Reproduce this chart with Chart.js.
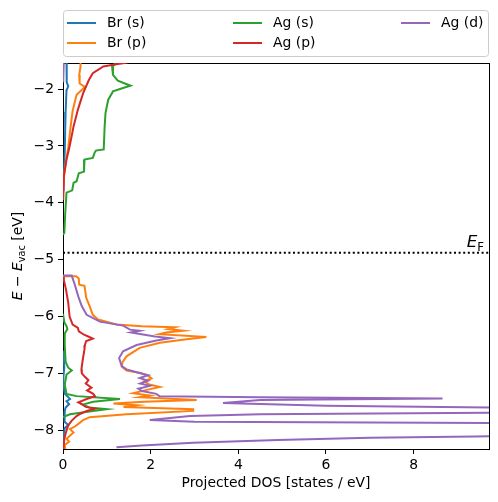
<!DOCTYPE html>
<html>
<head>
<meta charset="utf-8">
<script src="https://cdn.jsdelivr.net/npm/chart.js@4.4.1/dist/chart.umd.min.js"></script>
<style>body{margin:0;background:#fff}</style>
</head>
<body>
<canvas id="dos" width="498" height="502"></canvas>
<script>
var seriesNames = ['Br (s)', 'Br (p)', 'Ag (s)', 'Ag (p)', 'Ag (d)'];
var seriesColors = ['#1f77b4', '#ff7f0e', '#2ca02c', '#d62728', '#9467bd'];
var fermiLevel = -4.88;
var xMax = 9.72;

// energy (eV) and projected DOS per orbital, null = nothing drawn there
var brS_E = [-1.45, -1.70, -1.88, -1.95, -2.02, -2.40, -2.70, -3.10, -3.50, -3.80,
  -4.00, -6.60, -6.75, -6.90, -7.05, -7.20, -7.36, -7.40, -7.45, -7.49,
  -7.54, -7.60, -7.66, -7.75, -7.85, -7.91, -7.96, -8.05, -8.20, -8.40];
var brS_dos = [0.08, 0.08, 0.09, 0.12, 0.08, 0.06, 0.05, 0.04, 0.02, 0.01,
  null, 0.00, 0.02, 0.03, 0.01, 0.01, 0.04, 0.10, 0.16, 0.08,
  0.14, 0.06, 0.04, 0.03, 0.04, 0.12, 0.04, 0.02, 0.01, 0.00];

var brP_E = [-1.45, -1.60, -1.75, -1.90, -1.96, -2.02, -2.10, -2.38, -2.68, -3.03,
  -3.30, -3.55, -3.75, -4.00, -5.29, -5.29, -5.33, -5.44, -5.46, -5.67,
  -5.82, -5.97, -6.05, -6.14, -6.17, -6.19, -6.22, -6.25, -6.28, -6.31,
  -6.36, -6.40, -6.46, -6.55, -6.70, -6.80, -6.88, -6.95, -6.99, -7.04,
  -7.09, -7.14, -7.19, -7.24, -7.29, -7.35, -7.39, -7.42, -7.47, -7.50,
  -7.53, -7.56, -7.59, -7.63, -7.66, -7.72, -7.77, -7.82, -7.87, -7.93,
  -7.98, -8.04, -8.10, -8.15, -8.20, -8.26, -8.40];
var brP_dos = [0.40, 0.40, 0.37, 0.38, 0.50, 0.42, 0.31, 0.22, 0.17, 0.12,
  0.06, 0.02, 0.00, null, 0.00, 0.30, 0.36, 0.37, 0.49, 0.53,
  0.61, 0.68, 0.80, 1.22, 1.80, 2.55, 2.40, 2.74, 2.35, 2.20,
  3.27, 2.82, 2.21, 1.75, 1.45, 1.36, 1.34, 1.45, 1.75, 1.94,
  2.02, 1.85, 1.95, 2.21, 1.91, 1.60, 1.98, 1.75, 3.05, 1.85,
  1.15, 1.68, 1.38, 2.97, 2.97, 1.45, 0.61, 0.46, 0.38, 0.28,
  0.16, 0.24, 0.15, 0.08, 0.14, 0.04, 0.06];

var agS_E = [-1.45, -1.57, -1.60, -1.75, -1.85, -1.94, -1.98, -2.04, -2.19, -2.42,
  -2.66, -3.04, -3.06, -3.08, -3.12, -3.21, -3.24, -3.45, -3.48, -3.62,
  -3.65, -3.78, -3.82, -4.20, -4.53, -4.56, -5.00, -5.95, -6.10, -6.17,
  -6.22, -6.30, -6.50, -6.80, -6.90, -6.95, -7.02, -7.20, -7.36, -7.40,
  -7.45, -7.50, -7.55, -7.60, -7.63, -7.67, -7.72, -7.77];
var agS_dos = [1.20, 1.18, 1.12, 1.14, 1.25, 1.54, 1.37, 1.14, 1.03, 0.97,
  0.95, 0.93, 0.93, 0.75, 0.72, 0.68, 0.49, 0.48, 0.36, 0.31,
  0.24, 0.21, 0.08, 0.05, 0.03, 0.00, null, 0.00, 0.03, 0.08,
  0.10, 0.04, 0.04, 0.06, 0.12, 0.20, 0.08, 0.04, 0.08, 0.31,
  1.30, 0.69, 0.45, 0.60, 1.00, 0.60, 0.16, 0.00];

var agP_E = [-1.45, -1.54, -1.57, -1.60, -1.72, -1.84, -2.07, -2.36, -2.66, -3.01,
  -3.24, -3.53, -3.75, -3.95, -4.20, -5.30, -5.36, -5.53, -5.76, -6.00,
  -6.14, -6.20, -6.26, -6.32, -6.36, -6.39, -6.43, -6.50, -6.58, -6.76,
  -6.93, -7.00, -7.06, -7.12, -7.18, -7.25, -7.30, -7.36, -7.40, -7.45,
  -7.51, -7.55, -7.59, -7.62, -7.66, -7.71, -7.75, -7.83, -7.91, -8.03,
  -8.15, -8.40];
var agP_dos = [1.90, 1.40, 1.14, 0.92, 0.68, 0.59, 0.46, 0.34, 0.24, 0.15,
  0.08, 0.02, 0.01, 0.00, null, 0.00, 0.02, 0.07, 0.12, 0.15,
  0.22, 0.34, 0.36, 0.48, 0.60, 0.68, 0.53, 0.50, 0.49, 0.45,
  0.42, 0.43, 0.50, 0.58, 0.52, 0.65, 0.55, 0.69, 0.73, 0.54,
  0.35, 0.45, 0.52, 0.73, 0.54, 0.40, 0.31, 0.20, 0.12, 0.07,
  0.03, 0.00];

var agD_E = [-1.45, -1.75, -1.88, -2.00, -5.28, -5.28, -5.33, -5.44, -5.65, -5.82,
  -5.97, -6.09, -6.16, -6.23, -6.25, -6.28, -6.31, -6.35, -6.38, -6.42,
  -6.50, -6.61, -6.73, -6.87, -6.93, -6.99, -7.03, -7.08, -7.13, -7.18,
  -7.22, -7.27, -7.31, -7.36, -7.40, -7.42, -7.44, -7.47, -7.52, -7.57,
  -7.62, -7.65, -7.68, -7.72, -7.75, -7.82, -7.85, -7.88, -7.96, -8.05,
  -8.09, -8.11, -8.13, -8.17, -8.22, -8.27, -8.30];
var agD_dos = [0.02, 0.01, 0.00, null, 0.00, 0.20, 0.22, 0.27, 0.35, 0.43,
  0.54, 0.84, 1.37, 1.53, 1.75, 1.55, 1.79, 2.10, 2.44, 2.13,
  1.68, 1.37, 1.28, 1.34, 1.45, 1.72, 1.94, 1.75, 1.94, 1.76,
  1.98, 1.72, 1.80, 2.13, 2.20, 4.50, 8.66, 4.50, 3.65, 6.00,
  12.0, 30.0, 12.0, 4.50, 2.90, 1.98, 3.00, 12.0, 40.0, 20.0,
  12.0, 9.40, 7.00, 4.90, 2.97, 1.80, 1.22];

var energies = [brS_E, brP_E, agS_E, agP_E, agD_E];
var dosValues = [brS_dos, brP_dos, agS_dos, agP_dos, agD_dos];

var FONT = "'DejaVu Sans', sans-serif";
Chart.defaults.font.family = FONT;
Chart.defaults.font.size = 13.9;
Chart.defaults.color = '#000';

function toPoints(E, D) {
  var pts = [];
  for (var i = 0; i < E.length; i++) pts.push({x: D[i], y: E[i]});
  return pts;
}

var datasets = [];
for (var s = 0; s < seriesNames.length; s++) {
  datasets.push({
    label: seriesNames[s],
    data: toPoints(energies[s], dosValues[s]),
    borderColor: seriesColors[s],
    backgroundColor: seriesColors[s],
    showLine: true,
    borderWidth: 2,
    pointRadius: 0,
    order: seriesNames.length - s
  });
}
datasets.push({
  label: 'EF',
  data: [{x: 0, y: fermiLevel}, {x: xMax, y: fermiLevel}],
  borderColor: '#000',
  showLine: true,
  borderWidth: 2,
  borderDash: [2, 2.6],
  pointRadius: 0,
  order: 10
});

function minusFmt(v) { return String(v).replace('-', '\u2212'); }

// draws a row of text pieces (italic / subscript), centred on x
function drawPieces(ctx, pieces, x, y, size, align) {
  var total = 0;
  pieces.forEach(function(p) {
    var sz = p.sub ? size * 0.7 : size;
    p.font = (p.it ? 'italic ' : '') + sz + 'px ' + FONT;
    ctx.font = p.font;
    p.w = ctx.measureText(p.t).width;
    total += p.w;
  });
  var cx = align === 'right' ? x - total : x - total / 2;
  ctx.textAlign = 'left';
  ctx.textBaseline = 'alphabetic';
  pieces.forEach(function(p) {
    ctx.font = p.font;
    ctx.fillText(p.t, cx, y + (p.sub ? size * 0.22 : 0));
    cx += p.w;
  });
}

var decor = {
  id: 'decor',
  beforeDatasetsDraw: function(chart) {
    var ctx = chart.ctx, a = chart.chartArea;
    ctx.save();
    ctx.strokeStyle = '#000';
    ctx.lineWidth = 1;
    ctx.strokeRect(Math.round(a.left) + 0.5, Math.round(a.top) + 0.5,
      Math.round(a.right - a.left), Math.round(a.bottom - a.top));
    ctx.restore();
  },
  afterDraw: function(chart) {
    var ctx = chart.ctx, a = chart.chartArea;
    var y = chart.scales.y;
    ctx.save();
    ctx.fillStyle = '#000';
    // E_F label
    drawPieces(ctx, [{t: 'E', it: true}, {t: 'F', sub: true}],
      a.right - 5, y.getPixelForValue(fermiLevel) - 6, 16.7, 'right');
    // y axis title
    ctx.translate(22, (a.top + a.bottom) / 2);
    ctx.rotate(-Math.PI / 2);
    drawPieces(ctx, [{t: 'E', it: true}, {t: ' \u2212 '}, {t: 'E', it: true},
      {t: 'vac', sub: true}, {t: ' [eV]'}], 0, 0, 13.9, 'center');
    ctx.restore();

    // legend, three columns filled top to bottom
    ctx.save();
    var bx = 63.5, by = 10.5, bw = 425, bh = 46, r = 3;
    ctx.beginPath();
    ctx.moveTo(bx + r, by);
    ctx.arcTo(bx + bw, by, bx + bw, by + bh, r);
    ctx.arcTo(bx + bw, by + bh, bx, by + bh, r);
    ctx.arcTo(bx, by + bh, bx, by, r);
    ctx.arcTo(bx, by, bx + bw, by, r);
    ctx.closePath();
    ctx.fillStyle = 'rgba(255,255,255,0.8)';
    ctx.fill();
    ctx.strokeStyle = '#cccccc';
    ctx.lineWidth = 1;
    ctx.stroke();
    var colX = [67, 233, 401], rowY = [23, 43];
    ctx.font = '13.9px ' + FONT;
    ctx.textBaseline = 'middle';
    ctx.textAlign = 'left';
    for (var i = 0; i < seriesNames.length; i++) {
      var cx = colX[Math.floor(i / 2)], cy = rowY[i % 2];
      ctx.strokeStyle = seriesColors[i];
      ctx.lineWidth = 2;
      ctx.beginPath();
      ctx.moveTo(cx, cy);
      ctx.lineTo(cx + 29, cy);
      ctx.stroke();
      ctx.fillStyle = '#000';
      ctx.fillText(seriesNames[i], cx + 40, cy);
    }
    ctx.restore();
  }
};

var chart = new Chart(document.getElementById('dos'), {
  type: 'scatter',
  data: {datasets: datasets},
  options: {
    responsive: false,
    animation: false,
    devicePixelRatio: 1,
    layout: {padding: {top: 63, right: 9, left: 0, bottom: 0}},
    plugins: {legend: {display: false}, tooltip: {enabled: false}},
    scales: {
      x: {
        type: 'linear', min: 0, max: xMax,
        afterFit: function(sc) { sc.height = 53; },
        ticks: {stepSize: 2, includeBounds: false, padding: 3, maxRotation: 0, callback: minusFmt},
        grid: {drawOnChartArea: false, tickLength: 5, tickColor: '#000', tickWidth: 1},
        border: {display: false},
        title: {display: true, text: 'Projected DOS [states / eV]', padding: {top: 0, bottom: 10}}
      },
      y: {
        type: 'linear', min: -8.33, max: -1.54,
        afterFit: function(sc) { sc.width = 63; },
        ticks: {stepSize: 1, includeBounds: false, padding: 4, callback: minusFmt},
        grid: {drawOnChartArea: false, tickLength: 5, tickColor: '#000', tickWidth: 1},
        border: {display: false}
      }
    }
  },
  plugins: [decor]
});
</script>
</body>
</html>
